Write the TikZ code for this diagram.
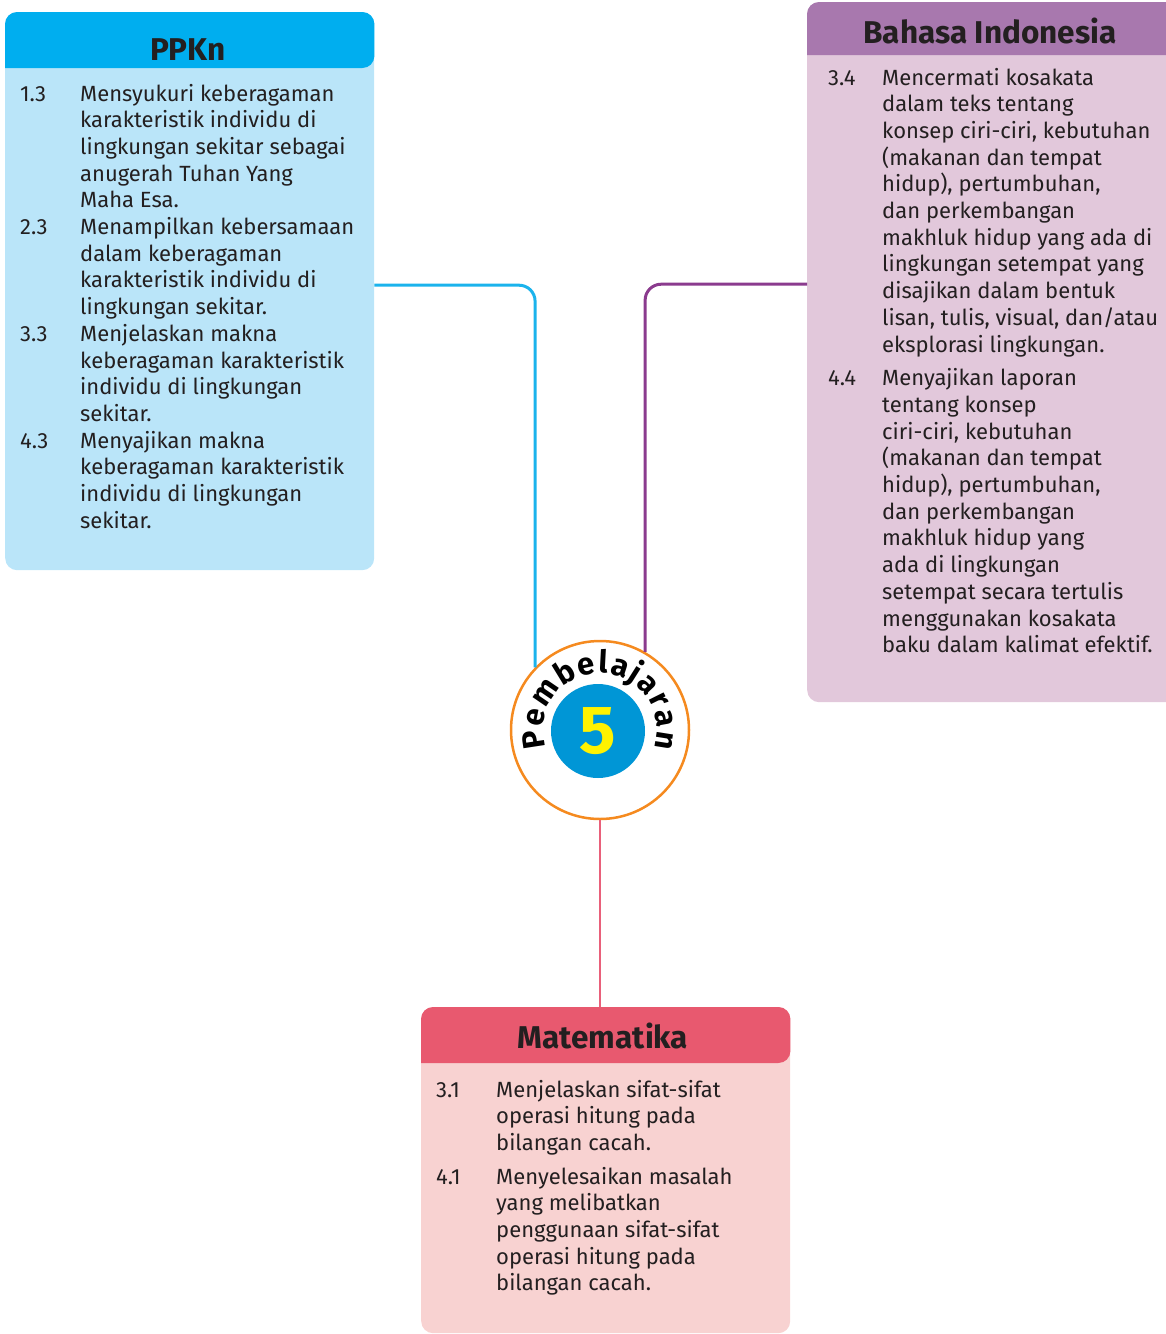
\documentclass[tikz,border=0pt]{standalone}
\usepackage{fontspec}
\setmainfont{Fira Sans}
\usetikzlibrary{calc,positioning,decorations.text}

\definecolor{ppknhead}{HTML}{00AEEF}
\definecolor{ppknbody}{HTML}{BAE5F9}
\definecolor{ppknline}{HTML}{1BB3EC}
\definecolor{bindhead}{HTML}{A878AE}
\definecolor{bindbody}{HTML}{E2C8DB}
\definecolor{bindline}{HTML}{8B3B8E}
\definecolor{mathead}{HTML}{E8596F}
\definecolor{matbody}{HTML}{F8D2D1}
\definecolor{matline}{HTML}{E9607A}
\definecolor{ringcol}{HTML}{F58A1F}
\definecolor{numblue}{HTML}{0096D6}
\definecolor{numyellow}{HTML}{FFF200}
\definecolor{ink}{HTML}{231F20}

\begin{document}
\begin{tikzpicture}[x=1pt, y=-1pt,
    every node/.style={text=ink, inner sep=0pt},
    subject/.style={rectangle, rounded corners=12pt, anchor=north west},
    heading/.style={anchor=base, font=\fontsize{31.5}{31.5}\selectfont\bfseries},
    items/.style={anchor=base west, font=\fontsize{22}{26.7}\selectfont},
    link/.style={line width=3pt, rounded corners=16pt}]
  \useasboundingbox (0,0) rectangle (1166,1334);

  \node[subject, fill=ppknbody, minimum width=369pt, minimum height=558pt] (ppkn) at (5,12) {};
  \node[subject, fill=bindbody, minimum width=400pt, minimum height=700pt] (bind) at (807,2) {};
  \node[subject, fill=matbody, minimum width=369pt, minimum height=326pt] (mat) at (421,1007) {};
  \fill[ppknhead] ($(ppkn.north west)+(0,56)$) [rounded corners=12pt] |- (ppkn.north)
    -| ($(ppkn.north east)+(0,56)$) [sharp corners] -- cycle;
  \fill[bindhead] ($(bind.north west)+(0,53)$) [rounded corners=12pt] |- (bind.north)
    -| ($(bind.north east)+(0,53)$) [sharp corners] -- cycle;
  \fill[mathead] ($(mat.north west)+(0,56)$) [rounded corners=12pt] |- (mat.north)
    -| ($(mat.north east)+(0,56)$) [sharp corners] -- cycle;

  \node[heading] (ppknhd) at (188,60) {PPKn};
  \node[heading] (bindhd) at (990,43) {Bahasa Indonesia};
  \node[heading] (mathd) at (603,1048) {Matematika};

  \node[items] (ppkntxt) at (20,101) {\begin{tabular}[t]{@{}p{60pt}@{}l@{}}
    1.3 & Mensyukuri keberagaman\\
        & karakteristik individu di\\
        & lingkungan sekitar sebagai\\
        & anugerah Tuhan Yang\\
        & Maha Esa.\\
    2.3 & Menampilkan kebersamaan\\
        & dalam keberagaman\\
        & karakteristik individu di\\
        & lingkungan sekitar.\\
    3.3 & Menjelaskan makna\\
        & keberagaman karakteristik\\
        & individu di lingkungan\\
        & sekitar.\\
    4.3 & Menyajikan makna\\
        & keberagaman karakteristik\\
        & individu di lingkungan\\
        & sekitar.
  \end{tabular}};

  \node[items] (bindtxt) at (828,85) {\begin{tabular}[t]{@{}p{54pt}@{}l@{}}
    3.4 & Mencermati kosakata\\
        & dalam teks tentang\\
        & konsep ciri-ciri, kebutuhan\\
        & (makanan dan tempat\\
        & hidup), pertumbuhan,\\
        & dan perkembangan\\
        & makhluk hidup yang ada di\\
        & lingkungan setempat yang\\
        & disajikan dalam bentuk\\
        & lisan, tulis, visual, dan/atau\\
        & eksplorasi lingkungan.\\[7pt]
    4.4 & Menyajikan laporan\\
        & tentang konsep\\
        & ciri-ciri, kebutuhan\\
        & (makanan dan tempat\\
        & hidup), pertumbuhan,\\
        & dan perkembangan\\
        & makhluk hidup yang\\
        & ada di lingkungan\\
        & setempat secara tertulis\\
        & menggunakan kosakata\\
        & baku dalam kalimat efektif.
  \end{tabular}};

  \node[items] (mattxt) at (436,1097) {\begin{tabular}[t]{@{}p{60pt}@{}l@{}}
    3.1 & Menjelaskan sifat-sifat\\
        & operasi hitung pada\\
        & bilangan cacah.\\[7pt]
    4.1 & Menyelesaikan masalah\\
        & yang melibatkan\\
        & penggunaan sifat-sifat\\
        & operasi hitung pada\\
        & bilangan cacah.
  \end{tabular}};

  \node[circle, draw=ringcol, line width=2.5pt, fill=white, minimum size=178pt] (pb) at (600,730) {};
  \node[circle, fill=numblue, minimum size=94pt, text=numyellow,
    font=\fontsize{68}{68}\selectfont\bfseries] (num) at (598,731) {5};

  \draw[link, ppknline] ([yshift=6pt]ppkn.east) -| (pb.136);
  \draw[link, bindline] ([yshift=68pt]bind.west) -| (pb.60);
  \draw[line width=2.5pt, matline] (pb.south) -- (pb.south |- mat.north);

  \path[decorate, decoration={text along path, text align=fit to path,
    text={|\fontsize{31}{31}\selectfont\bfseries|Pembelajaran}}]
    ($(pb.center)+(198:57pt)$) arc[start angle=198, end angle=-18, radius=57pt];
\end{tikzpicture}
\end{document}
